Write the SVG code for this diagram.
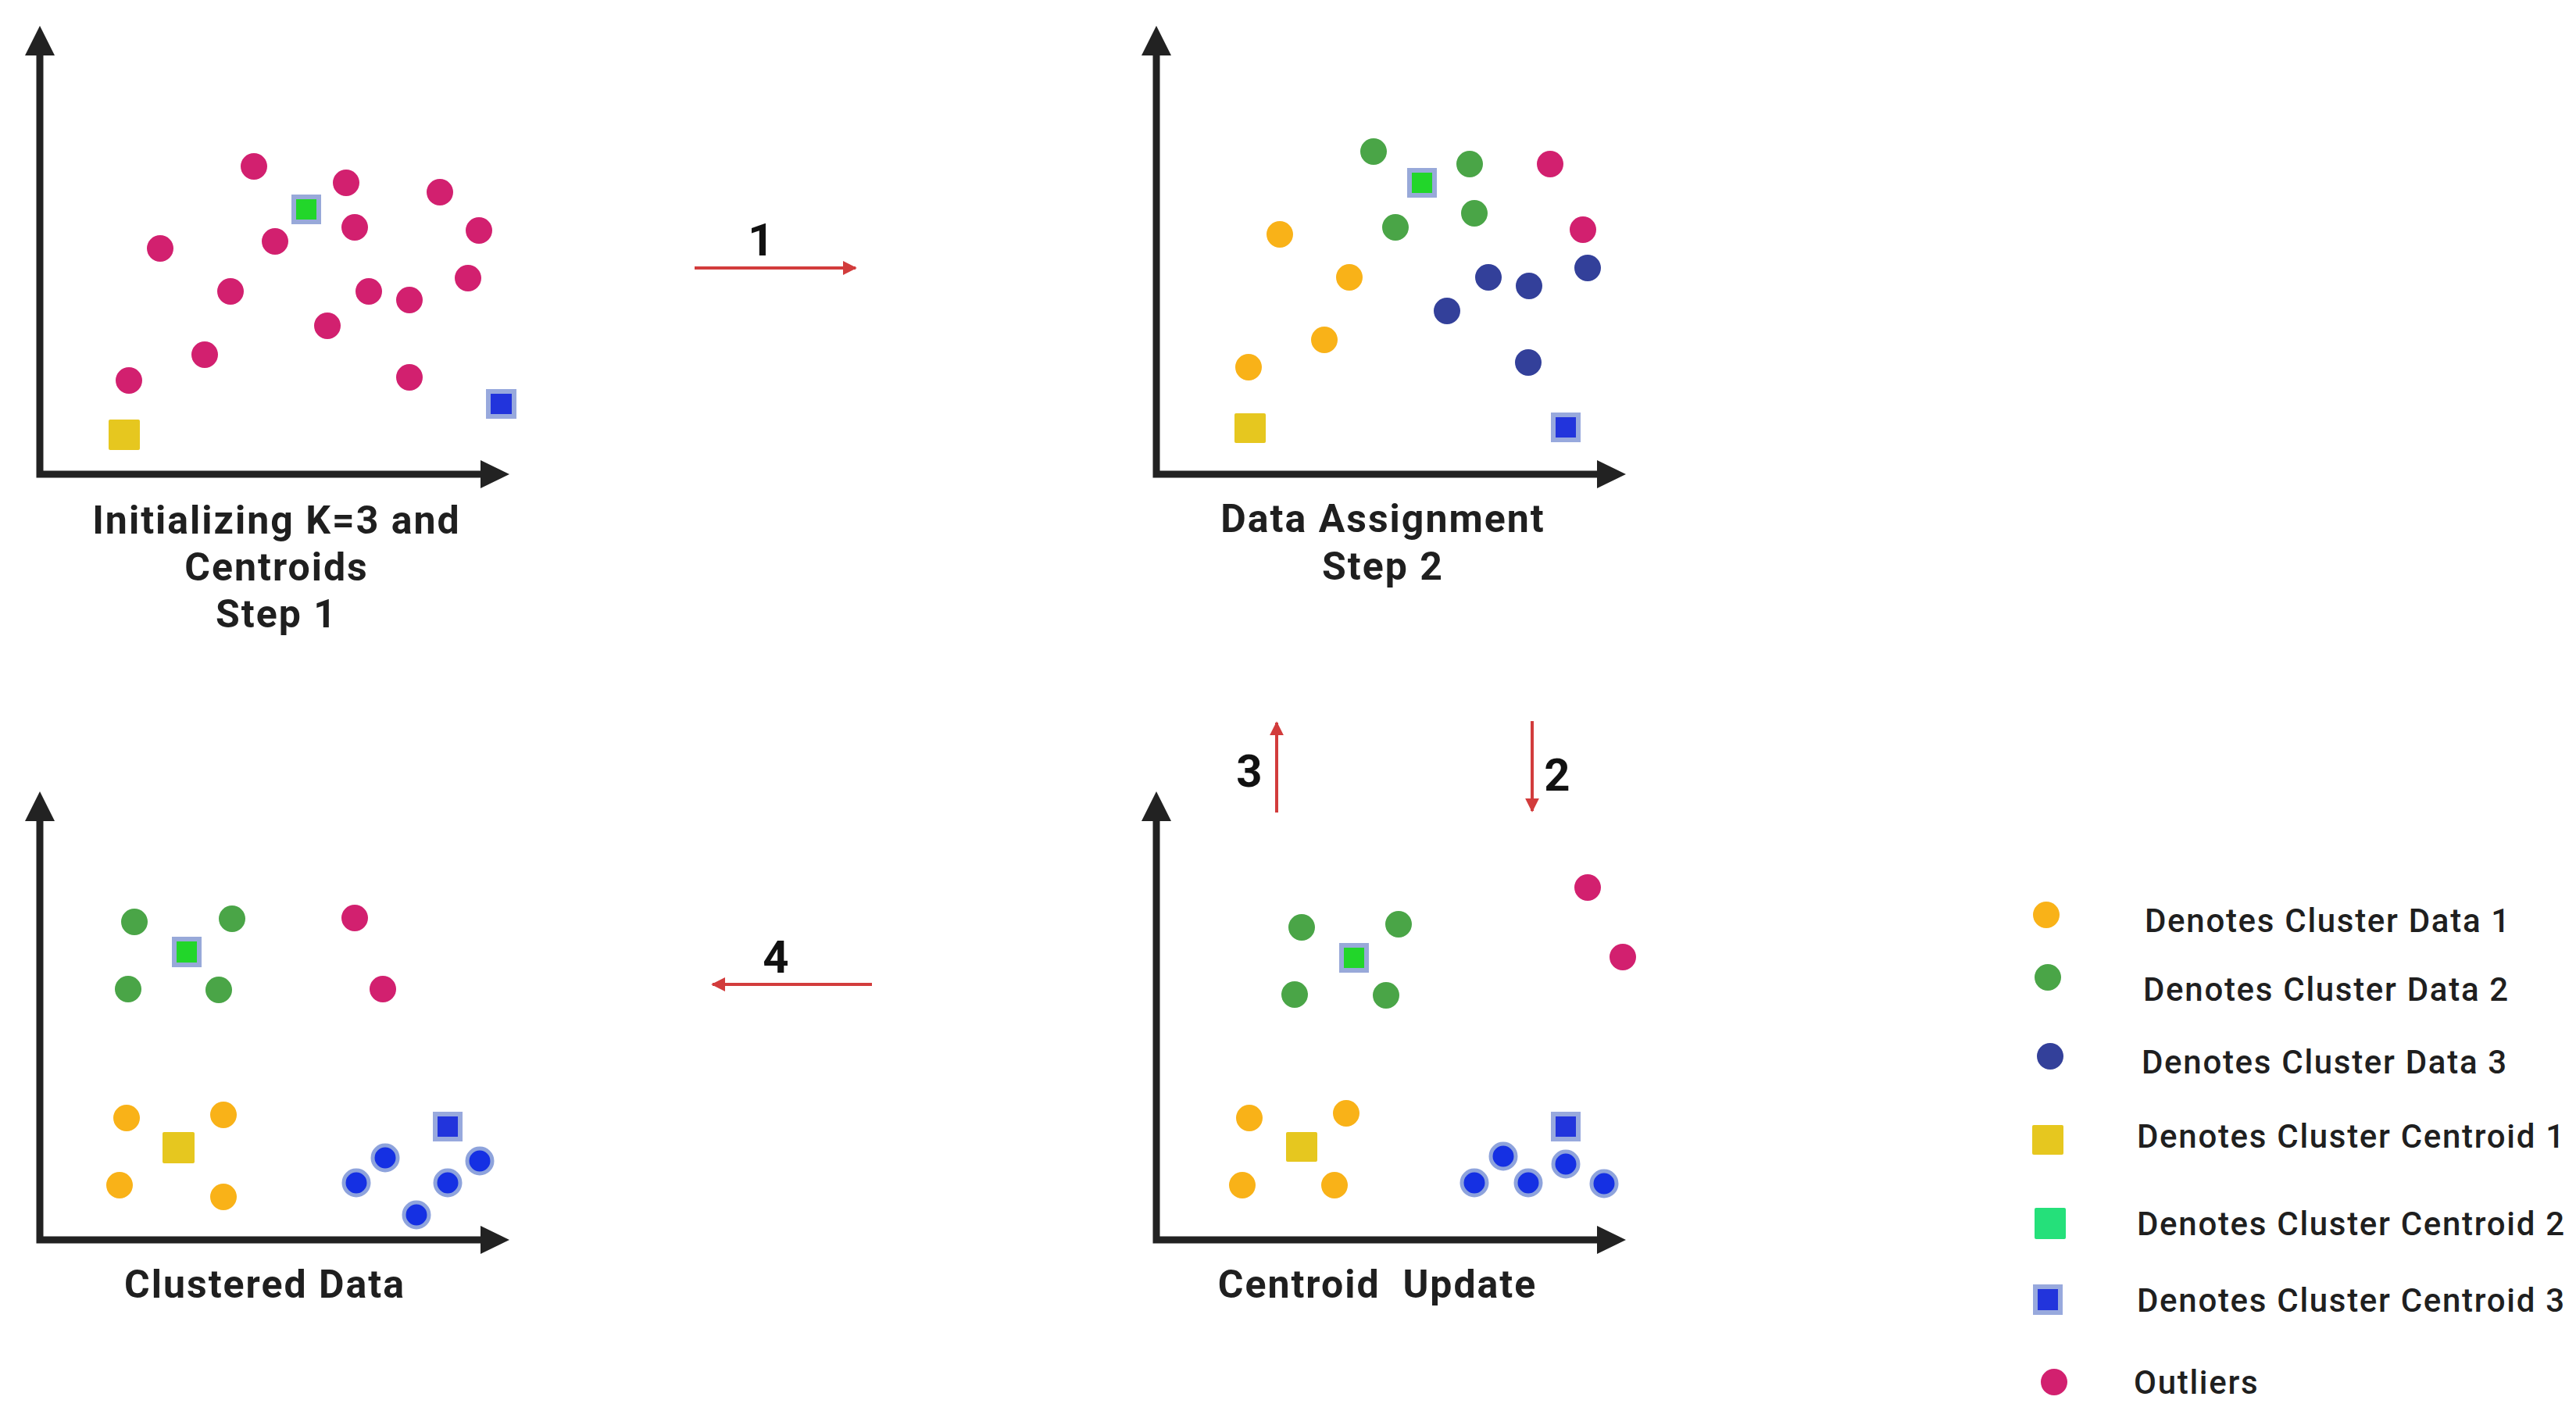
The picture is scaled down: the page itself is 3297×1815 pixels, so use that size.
<svg xmlns="http://www.w3.org/2000/svg" width="3297" height="1815" viewBox="0 0 3297 1815">
<style>
.lbl{font-family:Roboto,"Liberation Sans",sans-serif;font-weight:700;font-size:50px;fill:#1f1f1f;text-anchor:middle;letter-spacing:2px}
.num{font-family:Roboto,"Liberation Sans",sans-serif;font-weight:700;font-size:58px;fill:#111;text-anchor:middle}
.leg{font-family:Roboto,"Liberation Sans",sans-serif;font-weight:500;font-size:42px;fill:#1f1f1f;letter-spacing:1.7px}
.pk{fill:#d2206f}.gr{fill:#4aa547}.or{fill:#f9b218}.nv{fill:#33409a}
.bh{fill:#1530e3;stroke:#8ea3dc;stroke-width:5}
.yc{fill:#e6c71f}
.cg{fill:#22d62a;stroke:#98a9d9;stroke-width:6}
.cb{fill:#2234dc;stroke:#98a9dd;stroke-width:6}
.red{stroke:#d23c3c;stroke-width:4;fill:none}
</style>
<defs>
<g id="axes">
<path d="M0,-540 V0 H570" fill="none" stroke="#222" stroke-width="9" stroke-linejoin="miter"/>
<polygon points="0,-574 -19,-536 19,-536" fill="#222"/>
<polygon points="601,0 564,-18 564,18" fill="#222"/>
</g>
<marker id="ah" viewBox="0 0 10 10" refX="9" refY="5" markerWidth="4.5" markerHeight="4.5" orient="auto-start-reverse" markerUnits="strokeWidth">
<path d="M0,0 L10,5 L0,10 z" fill="#d23c3c"/>
</marker>
</defs>
<rect width="3297" height="1815" fill="#fff"/>

<g id="panel-step1">
<use href="#axes" transform="translate(51,607)"/>
<circle class="pk" cx="325" cy="213" r="17"/>
<circle class="pk" cx="443" cy="234" r="17"/>
<circle class="pk" cx="563" cy="246" r="17"/>
<circle class="pk" cx="454" cy="291" r="17"/>
<circle class="pk" cx="613" cy="295" r="17"/>
<circle class="pk" cx="352" cy="309" r="17"/>
<circle class="pk" cx="205" cy="318" r="17"/>
<circle class="pk" cx="295" cy="373" r="17"/>
<circle class="pk" cx="472" cy="373" r="17"/>
<circle class="pk" cx="524" cy="384" r="17"/>
<circle class="pk" cx="599" cy="356" r="17"/>
<circle class="pk" cx="419" cy="417" r="17"/>
<circle class="pk" cx="262" cy="454" r="17"/>
<circle class="pk" cx="165" cy="487" r="17"/>
<circle class="pk" cx="524" cy="483" r="17"/>
<rect class="cg" x="376" y="252" width="32" height="32"/>
<rect class="yc" x="139" y="537" width="40" height="39" rx="2"/>
<rect class="cb" x="625" y="501" width="33" height="32"/>
<text class="lbl" x="354" y="683">Initializing K=3 and</text>
<text class="lbl" x="354" y="743">Centroids</text>
<text class="lbl" x="354" y="803">Step 1</text>
</g>

<g id="panel-step2">
<use href="#axes" transform="translate(1480,607)"/>
<circle class="gr" cx="1758" cy="194" r="17"/>
<circle class="gr" cx="1881" cy="210" r="17"/>
<circle class="gr" cx="1887" cy="273" r="17"/>
<circle class="gr" cx="1786" cy="291" r="17"/>
<circle class="pk" cx="1984" cy="210" r="17"/>
<circle class="pk" cx="2026" cy="294" r="17"/>
<circle class="or" cx="1638" cy="300" r="17"/>
<circle class="or" cx="1727" cy="355" r="17"/>
<circle class="or" cx="1695" cy="435" r="17"/>
<circle class="or" cx="1598" cy="470" r="17"/>
<circle class="nv" cx="1905" cy="355" r="17"/>
<circle class="nv" cx="1957" cy="366" r="17"/>
<circle class="nv" cx="2032" cy="343" r="17"/>
<circle class="nv" cx="1852" cy="398" r="17"/>
<circle class="nv" cx="1956" cy="464" r="17"/>
<rect class="cg" x="1804" y="218" width="32" height="32"/>
<rect class="yc" x="1580" y="529" width="40" height="38" rx="2"/>
<rect class="cb" x="1988" y="531" width="32" height="32"/>
<text class="lbl" x="1770" y="681">Data Assignment</text>
<text class="lbl" x="1770" y="742">Step 2</text>
</g>

<g id="panel-clustered">
<use href="#axes" transform="translate(51,1587)"/>
<circle class="gr" cx="172" cy="1180" r="17"/>
<circle class="gr" cx="297" cy="1176" r="17"/>
<circle class="gr" cx="164" cy="1266" r="17"/>
<circle class="gr" cx="280" cy="1267" r="17"/>
<circle class="pk" cx="454" cy="1175" r="17"/>
<circle class="pk" cx="490" cy="1266" r="17"/>
<circle class="or" cx="162" cy="1431" r="17"/>
<circle class="or" cx="286" cy="1427" r="17"/>
<circle class="or" cx="153" cy="1517" r="17"/>
<circle class="or" cx="286" cy="1532" r="17"/>
<rect class="cg" x="223" y="1202" width="32" height="33"/>
<rect class="yc" x="208" y="1449" width="41" height="40" rx="2"/>
<rect class="cb" x="557" y="1426" width="32" height="32"/>
<circle class="bh" cx="493" cy="1482" r="16"/>
<circle class="bh" cx="456" cy="1514" r="16"/>
<circle class="bh" cx="614" cy="1486" r="16"/>
<circle class="bh" cx="573" cy="1514" r="16"/>
<circle class="bh" cx="533" cy="1555" r="16"/>
<text class="lbl" x="339" y="1661">Clustered Data</text>
</g>

<g id="panel-update">
<use href="#axes" transform="translate(1480,1587)"/>
<circle class="gr" cx="1666" cy="1187" r="17"/>
<circle class="gr" cx="1790" cy="1183" r="17"/>
<circle class="gr" cx="1657" cy="1273" r="17"/>
<circle class="gr" cx="1774" cy="1274" r="17"/>
<circle class="pk" cx="2032" cy="1136" r="17"/>
<circle class="pk" cx="2077" cy="1225" r="17"/>
<circle class="or" cx="1599" cy="1431" r="17"/>
<circle class="or" cx="1723" cy="1425" r="17"/>
<circle class="or" cx="1590" cy="1517" r="17"/>
<circle class="or" cx="1708" cy="1517" r="17"/>
<rect class="cg" x="1717" y="1210" width="32" height="32"/>
<rect class="yc" x="1646" y="1449" width="40" height="38" rx="2"/>
<rect class="cb" x="1988" y="1426" width="32" height="32"/>
<circle class="bh" cx="1924" cy="1480" r="16"/>
<circle class="bh" cx="1887" cy="1514" r="16"/>
<circle class="bh" cx="1956" cy="1514" r="16"/>
<circle class="bh" cx="2004" cy="1490" r="16"/>
<circle class="bh" cx="2053" cy="1515" r="16"/>
<text class="lbl" x="1763" y="1661" style="white-space:pre">Centroid  Update</text>
</g>

<g id="legend">
<circle class="or" cx="2619" cy="1171" r="17"/>
<text class="leg" x="2745" y="1193">Denotes Cluster Data 1</text>
<circle class="gr" cx="2621" cy="1251" r="17"/>
<text class="leg" x="2743" y="1281">Denotes Cluster Data 2</text>
<circle class="nv" cx="2624" cy="1352" r="17"/>
<text class="leg" x="2741" y="1374">Denotes Cluster Data 3</text>
<rect class="yc" x="2601" y="1440" width="40" height="38" rx="2"/>
<text class="leg" x="2735" y="1469">Denotes Cluster Centroid 1</text>
<rect x="2604" y="1546" width="40" height="40" rx="2" fill="#25e07a"/>
<text class="leg" x="2735" y="1581">Denotes Cluster Centroid 2</text>
<rect class="cb" x="2605" y="1647" width="32" height="33"/>
<text class="leg" x="2735" y="1679">Denotes Cluster Centroid 3</text>
<circle class="pk" cx="2629" cy="1769" r="17"/>
<text class="leg" x="2731" y="1784">Outliers</text>
</g>

<g id="connectors">
<line class="red" x1="889" y1="343" x2="1095" y2="343" marker-end="url(#ah)"/>
<text class="num" x="974" y="327">1</text>
<line class="red" x1="1961" y1="923" x2="1961" y2="1038" marker-end="url(#ah)"/>
<text class="num" x="1993" y="1012">2</text>
<line class="red" x1="1634" y1="1040" x2="1634" y2="925" marker-end="url(#ah)"/>
<text class="num" x="1599" y="1007">3</text>
<line class="red" x1="1116" y1="1260" x2="912" y2="1260" marker-end="url(#ah)"/>
<text class="num" x="993" y="1245">4</text>
</g>
</svg>
